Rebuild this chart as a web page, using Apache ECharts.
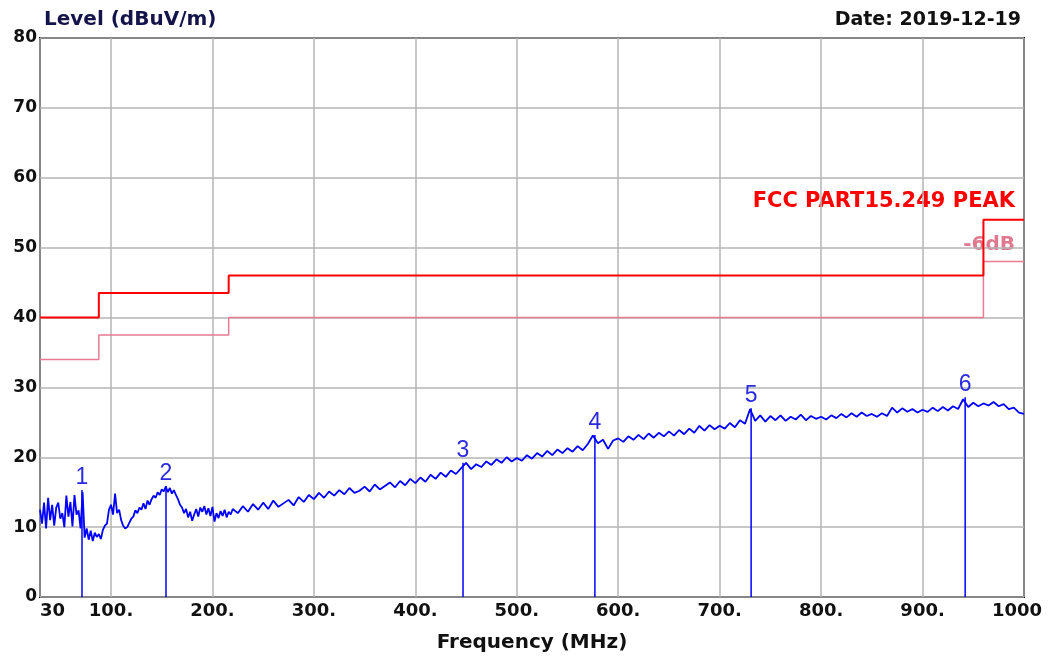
<!DOCTYPE html>
<html><head><meta charset="utf-8">
<script src="https://cdn.jsdelivr.net/npm/echarts@6/dist/echarts.min.js"></script>
<style>html,body{margin:0;padding:0;background:#fff}#c{width:1048px;height:659px}</style>
</head><body><div id="c"></div>
<script>
// Trace segment A: 30..220 MHz, step 2 MHz
var segAStart = 30, segAStep = 2;
var segAValues = [12.5,10.5,13.5,9.8,14.2,11.0,13.2,10.2,12.8,13.5,11.2,12.0,10.0,14.5,11.5,13.6,10.1,14.6,11.8,12.4,9.8,
  15.0,8.5,9.8,8.2,9.5,8.0,9.2,8.6,9.0,8.3,9.6,10.2,10.5,12.5,13.2,11.8,14.8,12.0,12.5,11.0,10.2,9.8,10.0,10.6,11.2,11.5,
  12.4,12.0,12.8,12.5,13.4,12.6,13.8,13.2,14.0,14.5,14.2,15.0,14.6,15.4,15.1,15.8,15.0,15.6,14.8,15.3,14.6,14.0,13.2,12.8,
  12.0,12.6,11.4,12.2,10.9,11.8,12.6,11.5,12.8,12.2,13.0,11.8,12.7,11.6,12.9,10.8,12.0,11.3,12.3,11.6,12.5,11.4,12.2,11.8,12.6];
// Trace segment B: 225..1000 MHz, step 5 MHz
var segBStart = 225, segBStep = 5;
var segBValues = [12.0,13.0,12.2,13.3,12.5,13.5,12.6,13.8,12.9,13.4,13.9,13.1,14.3,13.6,14.6,14.0,
  14.9,14.2,15.1,14.5,15.3,14.7,15.6,14.9,15.2,15.8,15.1,16.1,15.4,15.9,16.4,15.7,16.6,16.0,16.9,16.3,
  17.1,16.5,17.5,16.9,17.8,17.2,18.1,17.6,18.4,19.2,18.3,19.0,18.6,19.4,18.9,19.7,19.2,20.0,19.4,19.9,
  19.5,20.3,19.8,20.6,20.1,20.9,20.3,21.1,20.6,21.3,20.8,21.6,21.0,21.9,23.1,22.0,22.5,21.2,22.4,22.7,
  22.2,23.0,22.5,23.2,22.6,23.4,22.8,23.5,23.0,23.7,23.1,23.9,23.3,24.1,23.5,24.5,23.8,24.6,24.0,24.5,
  24.1,24.9,24.3,25.3,24.8,26.9,25.2,26.0,25.1,25.9,25.3,26.0,25.2,25.8,25.4,26.1,25.3,25.9,25.5,25.8,
  25.4,26.0,25.6,26.2,25.7,26.3,25.8,26.4,25.9,26.2,25.8,26.3,25.9,27.1,26.4,27.0,26.5,26.9,26.4,26.8,
  26.5,27.1,26.6,27.2,26.7,27.3,26.9,28.3,27.2,27.8,27.3,27.7,27.4,27.9,27.3,27.6,26.9,27.1,26.4,26.2];
// Limit lines (step)
var limitFreq = [30, 88, 216, 960, 1000];
var limitVal = [40, 43.5, 46, 54, 54];
var limit6Val = [34, 37.5, 40, 48, 48];
// Markers
var markerFreq = [71.4, 154.2, 447, 577, 731, 942];
var markerVal = [15.3, 15.9, 19.2, 23.2, 27.0, 28.6];
var markerLabel = ['1','2','3','4','5','6'];
// Axis ticks
var xTicks = [30,100,200,300,400,500,600,700,800,900,1000];
var xTickLabels = ['30','100.','200.','300.','400.','500.','600.','700.','800.','900.','1000'];

var trace = [];
segAValues.forEach(function(v,i){ trace.push([segAStart + i*segAStep, v]); });
segBValues.forEach(function(v,i){ trace.push([segBStart + i*segBStep, v]); });
var limitData = limitFreq.map(function(f,i){return [f, limitVal[i]];});
var limit6Data = limitFreq.map(function(f,i){return [f, limit6Val[i]];});
var markerData = markerFreq.map(function(f,i){return [f, markerVal[i]];});

var FONT = '"DejaVu Sans", Verdana, sans-serif';
var MFONT = 'Arial, "Liberation Sans", sans-serif';
var chart = echarts.init(document.getElementById('c'));
chart.setOption({
  animation: false,
  backgroundColor: '#fff',
  grid: {left: 40, right: 24, top: 38, bottom: 62, show: true, borderColor: '#000', borderWidth: 2, backgroundColor: 'transparent'},
  title: [
    {text: 'Level (dBuV/m)', left: 39, top: 5, textStyle: {fontFamily: FONT, fontSize: 20, fontWeight: 'bold', color: '#14144a'}},
    {text: 'Date: 2019-12-19', right: 22, top: 6, textStyle: {fontFamily: FONT, fontSize: 19, fontWeight: 'bold', color: '#111'}}
  ],
  graphic: [
    {type: 'text', right: 33, top: 191, style: {text: 'FCC PART15.249 PEAK', fontFamily: FONT, fontSize: 21, fontWeight: 'bold', fill: '#ff0000'}},
    {type: 'text', right: 33, top: 235, style: {text: '-6dB', fontFamily: FONT, fontSize: 20, fontWeight: 'bold', fill: '#e07890'}}
  ],
  xAxis: {
    type: 'value', min: 30, max: 1000,
    name: 'Frequency (MHz)', nameLocation: 'middle', nameGap: 36,
    nameTextStyle: {fontFamily: FONT, fontSize: 20, fontWeight: 'bold', color: '#111'},
    axisLine: {show: false},
    axisTick: {show: false, customValues: xTicks},
    axisLabel: {customValues: xTicks, fontFamily: FONT, fontSize: 18, fontWeight: 'bold', color: '#111', margin: 5,
      alignMinLabel: 'left', alignMaxLabel: 'center',
      formatter: function(v){ var i = xTicks.indexOf(v); if (i === xTicks.length - 1) return '{last|' + xTickLabels[i] + '}'; return i >= 0 ? xTickLabels[i] : ''; },
      rich: {last: {fontFamily: FONT, fontSize: 18, fontWeight: 'bold', color: '#111', padding: [0, 14, 0, 0]}}},
    splitLine: {show: true, lineStyle: {color: '#b4b4b4', width: 1.5}}
  },
  yAxis: {
    type: 'value', min: 0, max: 80, interval: 10,
    axisLine: {show: false}, axisTick: {show: false},
    axisLabel: {fontFamily: FONT, fontSize: 17, fontWeight: 'bold', color: '#111', margin: 3},
    splitLine: {show: true, lineStyle: {color: '#b4b4b4', width: 1.5}}
  },
  series: [
    {type: 'line', data: limit6Data, step: 'end', symbol: 'none', lineStyle: {color: '#e87a94', width: 1.5}, z: 3},
    {type: 'line', data: limitData, step: 'end', symbol: 'none', lineStyle: {color: '#ff0000', width: 2}, z: 3},
    {type: 'line', data: trace, symbol: 'none', lineStyle: {color: '#0000ff', width: 1.8}, z: 4},
    {type: 'custom', data: markerData, z: 5,
      renderItem: function(params, api){
        var p0 = api.coord([api.value(0), 0]);
        var p1 = api.coord([api.value(0), api.value(1)]);
        return {type: 'group', children: [
          {type: 'line', shape: {x1: p0[0], y1: p0[1], x2: p1[0], y2: p1[1]}, style: {stroke: '#0000ff', lineWidth: 1.5}},
          {type: 'text', x: p1[0], y: p1[1] - 1, style: {text: markerLabel[params.dataIndex], fontFamily: MFONT, fontSize: 23, fill: '#2a2ae0', align: 'center', verticalAlign: 'bottom'}}
        ]};
      }}
  ]
});
</script></body></html>
